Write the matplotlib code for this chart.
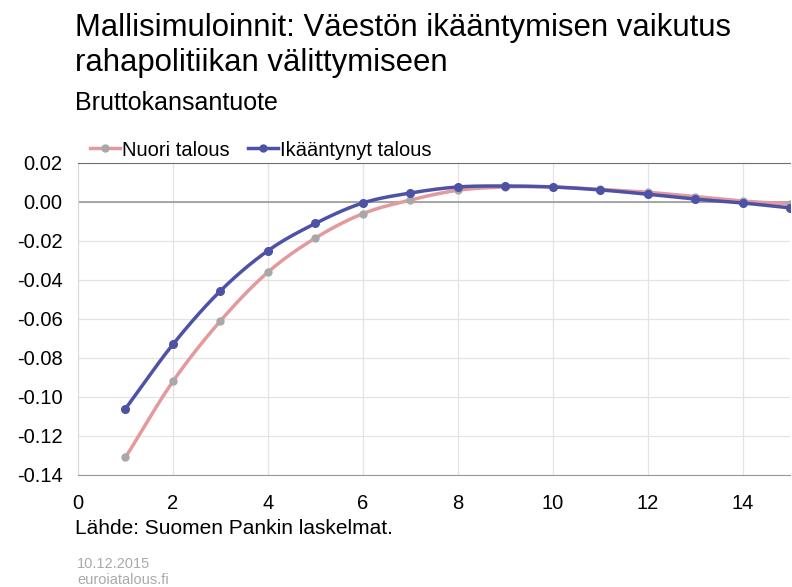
import numpy as np
import matplotlib
matplotlib.use("Agg")
import matplotlib.pyplot as plt

plt.rcParams["font.family"] = ["Liberation Sans", "DejaVu Sans"]

years = list(range(1, 16))
nuori = [-0.131, -0.092, -0.061, -0.036, -0.0185, -0.006, 0.001, 0.006, 0.0077,
         0.0077, 0.0065, 0.005, 0.0028, 0.0005, -0.001]
ikaantynyt = [-0.106, -0.073, -0.0456, -0.025, -0.011, -0.0005, 0.0046, 0.0077,
              0.0082, 0.0077, 0.0062, 0.004, 0.0015, -0.0005, -0.003]
x_ticks = [0, 2, 4, 6, 8, 10, 12, 14]
y_ticks = [0.02, 0.00, -0.02, -0.04, -0.06, -0.08, -0.10, -0.12, -0.14]


def smooth(xs, ys, n=20):
    # Catmull-Rom, like Excel's smoothed lines
    xs = np.asarray(xs, float)
    ys = np.asarray(ys, float)
    px = np.concatenate([[2 * xs[0] - xs[1]], xs, [2 * xs[-1] - xs[-2]]])
    py = np.concatenate([[2 * ys[0] - ys[1]], ys, [2 * ys[-1] - ys[-2]]])
    out_x, out_y = [], []
    t = np.linspace(0, 1, n, endpoint=False)
    for i in range(1, len(px) - 2):
        for p, o in ((px, out_x), (py, out_y)):
            p0, p1, p2, p3 = p[i - 1], p[i], p[i + 1], p[i + 2]
            o.extend(0.5 * (2 * p1 + (-p0 + p2) * t
                            + (2 * p0 - 5 * p1 + 4 * p2 - p3) * t ** 2
                            + (-p0 + 3 * p1 - 3 * p2 + p3) * t ** 3))
    out_x.append(xs[-1])
    out_y.append(ys[-1])
    return out_x, out_y


fig = plt.figure(figsize=(7.92, 5.87), dpi=100)
ax = fig.add_axes([78 / 792, 1 - 475 / 587, 712 / 792, 312 / 587])

pink = "#e39a9c"
blue = "#4e52a6"
sx, sy = smooth(years, nuori)
ax.plot(sx, sy, color=pink, lw=2.5, zorder=3)
ax.plot(years, nuori, "o", color="#a8a8a8", ms=5, zorder=4)
sx, sy = smooth(years, ikaantynyt)
ax.plot(sx, sy, color=blue, lw=2.5, zorder=5)
ax.plot(years, ikaantynyt, "o", color=blue, ms=5.5, zorder=6)

ax.set_xlim(0, 15)
ax.set_ylim(-0.14, 0.02)
ax.set_xticks(x_ticks)
ax.set_yticks(y_ticks)
ax.set_yticklabels([f"{v:.2f}" for v in y_ticks])
ax.tick_params(length=0, labelsize=14.5)
ax.tick_params(axis="y", pad=11)
ax.tick_params(axis="x", pad=14)
ax.grid(color="#e3e3e3", lw=0.9)
ax.set_axisbelow(True)
ax.axhline(0, color="#999999", lw=1.2, zorder=2)
ax.spines["right"].set_visible(False)
ax.spines["top"].set_color("#707070")
ax.spines["bottom"].set_color("#999999")
ax.spines["left"].set_color("#d8d8d8")

fig.text(75 / 792, 1 - 28 / 587, "Mallisimuloinnit: Väestön ikääntymisen vaikutus",
         fontsize=22.4, va="center")
fig.text(75 / 792, 1 - 63 / 587, "rahapolitiikan välittymiseen",
         fontsize=22.4, va="center")
fig.text(75 / 792, 1 - 103 / 587, "Bruttokansantuote", fontsize=18, va="center")

handles = [
    plt.Line2D([], [], color=pink, lw=2.5, marker="o", mfc="#a8a8a8",
               mec="#a8a8a8", ms=5),
    plt.Line2D([], [], color=blue, lw=2.5, marker="o", ms=5),
]
fig.legend(handles, ["Nuori talous", "Ikääntynyt talous"], loc="center left",
           bbox_to_anchor=(90 / 792, 1 - 150 / 587), ncol=2, frameon=False,
           fontsize=14.5, handlelength=1.5, handletextpad=0.1, columnspacing=0.9,
           borderpad=0, borderaxespad=0)

fig.text(75 / 792, 1 - 529 / 587, "Lähde: Suomen Pankin laskelmat.", fontsize=15,
         va="center")
fig.text(77 / 792, 1 - 564 / 587, "10.12.2015", fontsize=10.5, color="#aaaaaa",
         va="center")
fig.text(77 / 792, 1 - 580 / 587, "euroiatalous.fi", fontsize=10.5, color="#aaaaaa",
         va="center")

fig.savefig("out.png", dpi=100)
